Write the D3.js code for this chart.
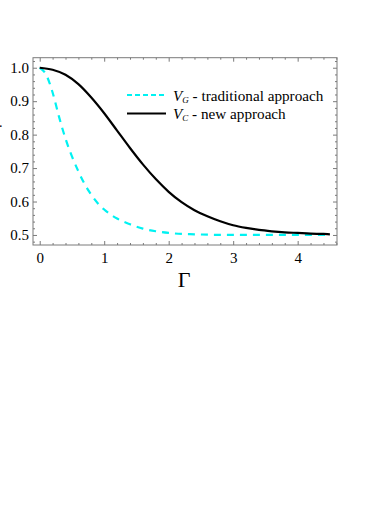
<!DOCTYPE html>
<html>
<head>
<meta charset="utf-8">
<script src="https://cdn.jsdelivr.net/npm/d3@7"></script>
<style>
    body { margin: 0; background: #fff; }
</style>
</head>
<body>
<div id="chart"></div>
<script>
// values
let gammaC = [0, 0.2, 0.4, 0.6, 0.8, 1.0, 1.2, 1.4, 1.6, 1.8, 2.0, 2.2, 2.4, 2.6, 2.8, 3.0, 3.2, 3.4, 3.6, 3.8, 4.0, 4.2, 4.4, 4.5];
let valuesC = [1.0, 0.994, 0.979, 0.951, 0.911, 0.864, 0.812, 0.76, 0.711, 0.667, 0.629, 0.598, 0.574, 0.556, 0.541, 0.529, 0.521, 0.515, 0.511, 0.508, 0.506, 0.504, 0.503, 0.502];

let gammaG = [0, 0.1, 0.2, 0.3, 0.4, 0.5, 0.6, 0.7, 0.8, 0.9, 1.0, 1.2, 1.4, 1.6, 1.8, 2.0, 2.4, 3.0, 4.5];
let valuesG = [1.0, 0.979, 0.926, 0.853, 0.788, 0.735, 0.69, 0.651, 0.62, 0.595, 0.576, 0.549, 0.532, 0.519, 0.511, 0.506, 0.502, 0.5, 0.5];

let xTicks = [0, 1, 2, 3, 4];
let yTicks = [0.5, 0.6, 0.7, 0.8, 0.9, 1.0];
let legendNames = [
    {v: "V", sub: "G", label: " - traditional approach"},
    {v: "V", sub: "C", label: " - new approach"}
];

let serif = "'Liberation Serif', 'Times New Roman', 'DejaVu Serif', serif";
let frame = {left: 33, top: 57.7, right: 337, bottom: 245};
let grey = "#7a7a7a";
let cyan = "#00f2f2";

let svg = d3.select("#chart").append("svg")
    .attr("width", 390)
    .attr("height", 505)
    .style("font-family", serif);

let x = d3.scaleLinear()
    .domain([-0.104, 4.61])
    .range([frame.left, frame.right]);

let y = d3.scaleLinear()
    .domain([0.47, 1.03])
    .range([frame.bottom, frame.top]);

let xMinor = d3.range(0, 4.61, 0.2).filter(function (d) { return Math.abs(d - Math.round(d)) > 1e-6; });
let yMinor = d3.range(0.48, 1.03, 0.02).filter(function (d) { return Math.abs(d * 10 - Math.round(d * 10)) > 1e-6; });

function styleAxis(g) {
    g.attr("font-family", serif).attr("font-size", 15);
    g.select(".domain").remove();
    g.selectAll(".tick line").attr("stroke", grey);
    g.selectAll(".tick text").style("font-family", serif).style("font-size", "15px").attr("fill", "#000");
}

//bottom and left, with labels
svg.append("g")
    .attr("transform", "translate(0," + frame.bottom + ")")
    .call(d3.axisBottom(x).tickValues(xTicks).tickSize(-4).tickPadding(7).tickFormat(d3.format("d")))
    .call(styleAxis);
svg.append("g")
    .attr("transform", "translate(0," + frame.bottom + ")")
    .call(d3.axisBottom(x).tickValues(xMinor).tickSize(-2).tickFormat(""))
    .call(styleAxis);
svg.append("g")
    .attr("transform", "translate(" + frame.left + ",0)")
    .call(d3.axisLeft(y).tickValues(yTicks).tickSize(-4).tickPadding(4).tickFormat(d3.format(".1f")))
    .call(styleAxis);
svg.append("g")
    .attr("transform", "translate(" + frame.left + ",0)")
    .call(d3.axisLeft(y).tickValues(yMinor).tickSize(-2).tickFormat(""))
    .call(styleAxis);

//top and right, mirrored ticks only
svg.append("g")
    .attr("transform", "translate(0," + frame.top + ")")
    .call(d3.axisTop(x).tickValues(xTicks).tickSize(-4).tickFormat(""))
    .call(styleAxis);
svg.append("g")
    .attr("transform", "translate(0," + frame.top + ")")
    .call(d3.axisTop(x).tickValues(xMinor).tickSize(-2).tickFormat(""))
    .call(styleAxis);
svg.append("g")
    .attr("transform", "translate(" + frame.right + ",0)")
    .call(d3.axisRight(y).tickValues(yTicks).tickSize(-4).tickFormat(""))
    .call(styleAxis);
svg.append("g")
    .attr("transform", "translate(" + frame.right + ",0)")
    .call(d3.axisRight(y).tickValues(yMinor).tickSize(-2).tickFormat(""))
    .call(styleAxis);

svg.append("rect")
    .attr("x", frame.left)
    .attr("y", frame.top)
    .attr("width", frame.right - frame.left)
    .attr("height", frame.bottom - frame.top)
    .attr("fill", "none")
    .attr("stroke", grey)
    .attr("stroke-width", 1);

let line = d3.line()
    .x(function (d) { return x(d[0]); })
    .y(function (d) { return y(d[1]); })
    .curve(d3.curveMonotoneX);

svg.append("path")
    .datum(d3.zip(gammaG, valuesG))
    .attr("d", line)
    .attr("fill", "none")
    .attr("stroke", cyan)
    .attr("stroke-width", 2.2)
    .attr("stroke-dasharray", "7,6");

svg.append("path")
    .datum(d3.zip(gammaC, valuesC))
    .attr("d", line)
    .attr("fill", "none")
    .attr("stroke", "#000")
    .attr("stroke-width", 2.2);

//legend
let legend = svg.append("g");
legendNames.forEach(function (item, i) {
    let ly = 95 + i * 18.5;
    legend.append("line")
        .attr("x1", 127).attr("x2", 166)
        .attr("y1", ly).attr("y2", ly)
        .attr("stroke", i === 0 ? cyan : "#000")
        .attr("stroke-width", 2.2)
        .attr("stroke-dasharray", i === 0 ? "5,3" : null);
    let t = legend.append("text")
        .attr("x", 173)
        .attr("y", ly + 5.5)
        .style("font-family", serif)
        .style("font-size", "15.2px");
    t.append("tspan").style("font-style", "italic").text(item.v);
    t.append("tspan").style("font-style", "italic").style("font-size", "9px").attr("dy", 2).text(item.sub);
    t.append("tspan").attr("dy", -2).text(item.label);
});

svg.append("text")
    .attr("x", 184)
    .attr("y", 287)
    .attr("text-anchor", "middle")
    .style("font-family", serif)
    .style("font-size", "22px")
    .text("Γ");

// clipped remnant of the y label
svg.append("text")
    .attr("x", -1)
    .attr("y", 127)
    .style("font-family", serif)
    .style("font-size", "14px")
    .text(".");
</script>
</body>
</html>
